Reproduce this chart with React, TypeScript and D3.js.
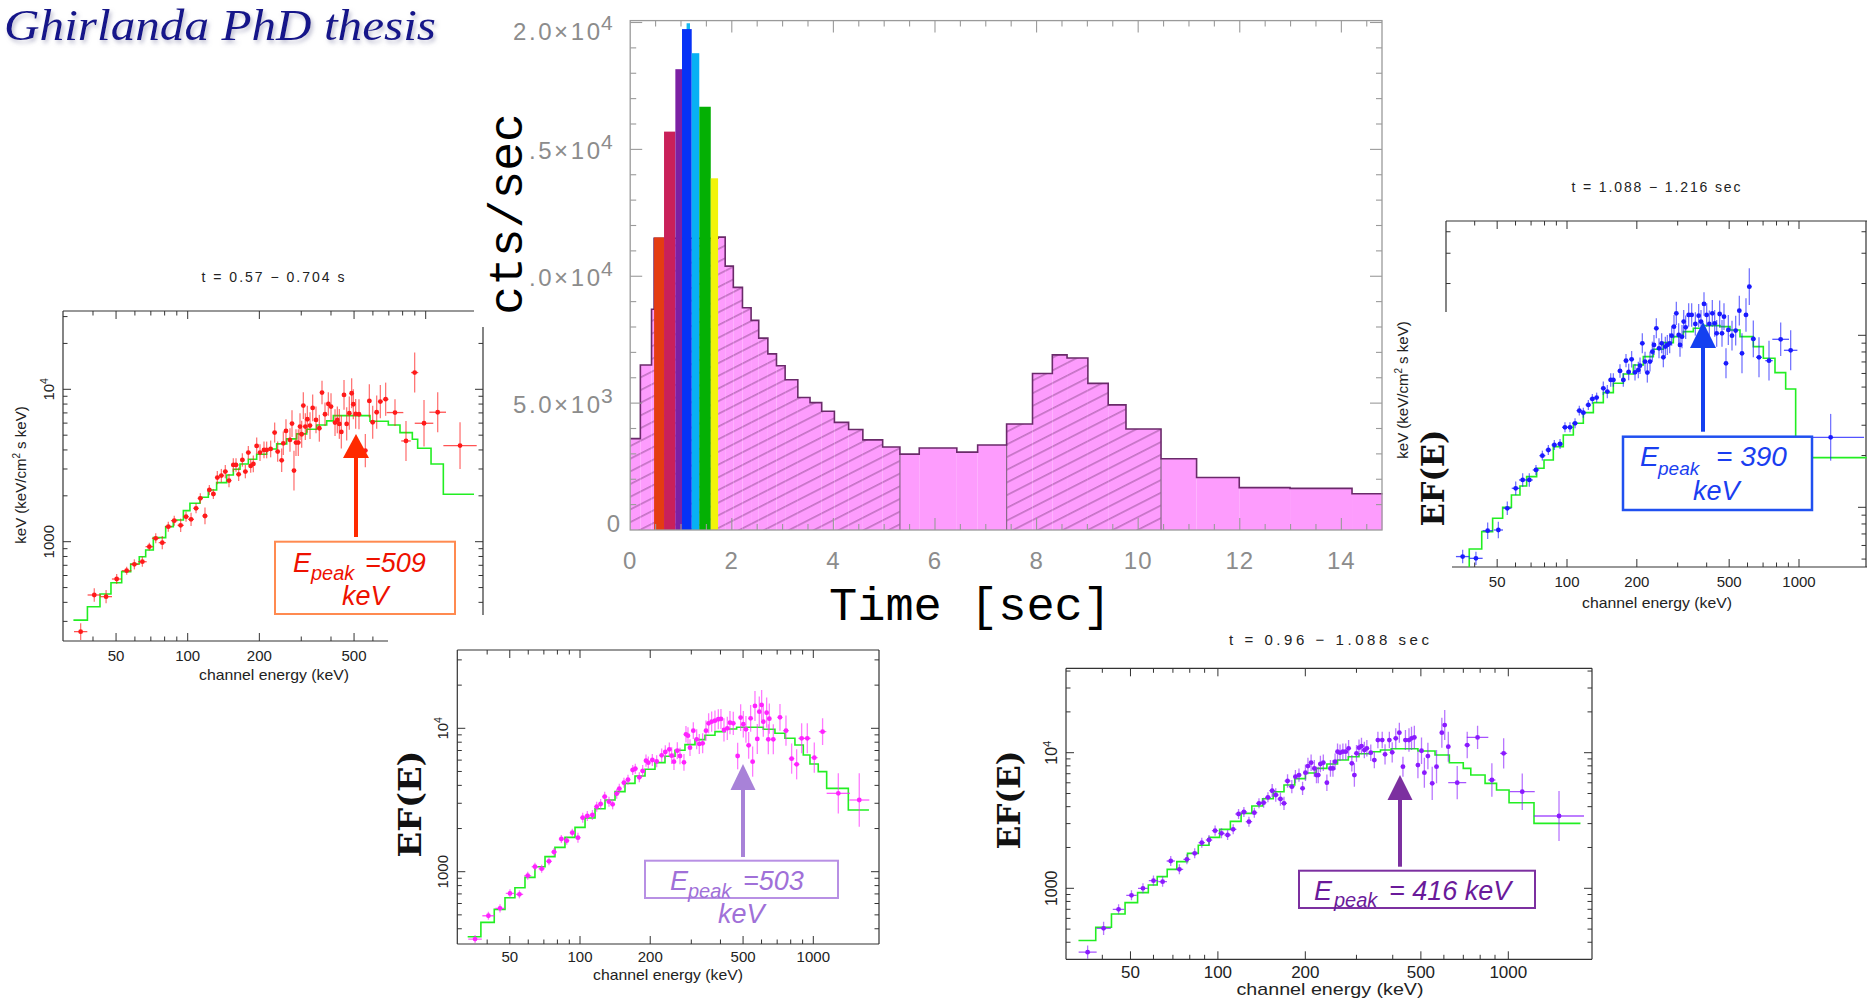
import React from 'react';
import * as d3 from 'd3';

// ================= Light curve data =================
const binEdges = [0, 0.2, 0.42, 0.47, 1.73, 1.87, 2.03, 2.21, 2.38, 2.53, 2.71, 2.88, 3.05, 3.30, 3.54, 3.77, 4.02, 4.30, 4.58, 4.97, 5.31, 5.69, 6.43, 6.84, 7.41, 7.92, 8.31, 8.60, 9.01, 9.41, 9.76, 10.45, 11.15, 11.99, 12.99, 14.21, 14.81];
const binCounts = [3600, 6500, 8700, 11500, 11540, 10400, 9560, 8760, 8260, 7560, 6940, 6470, 5920, 5220, 5020, 4680, 4240, 3960, 3550, 3270, 2990, 3230, 3070, 3350, 4180, 6170, 6900, 6780, 5780, 4930, 3980, 2810, 2070, 1670, 1640, 1430];
const hatchStart = [0, 7.41];
const hatchEnd = [5.31, 10.45];
const colorStart = [0.47, 0.666, 0.889, 1.11, 1.02, 1.211, 1.36, 1.586];
const colorEnd = [0.666, 0.889, 1.02, 1.177, 1.211, 1.36, 1.586, 1.73];
const colorCounts = [11530, 15700, 18160, 19970, 19740, 18790, 16680, 13860];
const colorFills = ['#e43c12', '#c9205a', '#7b20a4', '#14b8f2', '#0632f6', '#08b0f4', '#04b004', '#f2f40a'];
const timeTicks = [0, 2, 4, 6, 8, 10, 12, 14];
const countTicks = [0, 5000, 10000, 15000, 20000];
const countMant = ['0', '5.0×10', '1.0×10', '1.5×10', '2.0×10'];
const countExp = ['', '3', '4', '4', '4'];

// ================= Spectral panels =================
const energyTicks = [30, 40, 50, 60, 70, 80, 90, 100, 200, 300, 400, 500, 600, 700, 800, 900, 1000, 2000];
const energyLabels = [50, 100, 200, 500, 1000];
const fluxTicks = [200, 300, 400, 500, 600, 700, 800, 900, 1000, 2000, 3000, 4000, 5000, 6000, 7000, 8000, 9000, 10000, 20000, 30000, 40000, 50000];

// --- red : t = 0.57 - 0.704 s
const redE = [35.5,40.5,45.4,50.3,55.4,59.7,64.5,69.0,73.4,78.2,82.9,87.8,93.4,98.4,103.3,108.4,113.0,118.2,123.3,128.2,133.2,138.5,143.9,149.1,155.5,159.6,163.7,169.7,174.7,179.8,183.9,188.7,194.9,201.3,209.2,214.6,223.1,231.9,238.8,248.2,252.2,258.8,269.0,274.3,279.6,285.1,291.6,296.4,301.2,306.1,312.1,318.2,326.5,335.0,346.0,357.4,366.7,377.5,389.9,400.1,415.9,425.4,433.7,442.1,453.7,465.5,477.6,488.5,496.5,507.8,524.4,557.7,579.7,598.7,622.3,644.8,678.7,743.0,826.4,898.7,983.8,1123,1394];
const redF = [257,447,436,569,645,710,739,928,1052,986,1255,1374,1281,1460,1402,1656,1927,1475,2185,2056,2634,2714,2884,2517,3190,3190,2769,3439,2884,3842,3141,3237,4249,3842,4000,4000,4061,5199,3901,3422,4424,5332,4653,5957,2928,4469,4469,5692,5070,7818,5692,6362,5780,7548,6297,5550,9520,6861,8018,7701,6048,6297,5927,5252,9188,5927,6966,9424,7980,6896,6861,3961,8393,6078,7072,8309,8608,7036,4583,12880,5986,7072,4272];
const redErr = [0.055,0.044,0.044,0.033,0.026,0.033,0.033,0.026,0.033,0.044,
0.033,0.033,0.044,0.033,0.044,0.033,0.033,0.055,0.033,0.033,
0.044,0.044,0.044,0.044,0.044,0.044,0.044,0.044,0.044,0.044,
0.044,0.055,0.055,0.055,0.055,0.055,0.055,0.066,0.066,0.077,
0.077,0.077,0.077,0.088,0.131,0.088,0.088,0.088,0.088,0.088,
0.088,0.088,0.088,0.088,0.088,0.088,0.077,0.077,0.077,0.088,
0.088,0.088,0.098,0.109,0.098,0.109,0.109,0.098,0.098,0.098,
0.098,0.109,0.109,0.109,0.109,0.109,0.109,0.088,0.131,0.131,
0.153,0.131,0.153];
const redHw = [0.028,0.028,0.025,0.02,0.02,0.018,0.018,0.016,0.016,0.015,
0.014,0.014,0.013,0.012,0.012,0.011,0.011,0.011,0.01,0.01,
0.01,0.01,0.01,0.01,0.01,0.01,0.01,0.01,0.01,0.01,
0.008,0.008,0.008,0.008,0.008,0.008,0.008,0.008,0.008,0.008,
0.007,0.007,0.007,0.007,0.007,0.007,0.007,0.007,0.007,0.007,
0.007,0.007,0.007,0.007,0.007,0.007,0.007,0.007,0.007,0.007,
0.007,0.007,0.007,0.007,0.007,0.007,0.007,0.007,0.007,0.007,
0.007,0.008,0.008,0.008,0.009,0.01,0.012,0.035,0.02,0.015,
0.039,0.035,0.07];
const redModelE = [33.1,37.9,42.8,47.6,52.8,57.6,62.6,66.6,71.7,80.8,87.0,95.9,102.2,112.6,122.1,132.3,145.8,155.5,165.9,179.8,194.9,214.6,236.5,260.5,287.0,316.2,348.3,383.7,409.2,583.4,696.6,779.8,878.7,925.2,1053,1186,1596];
const redModelF = [306,374,454,538,636,714,797,882,1063,1255,1388,1599,1786,1956,2185,2441,2741,2987,3237,3474,3746,4061,4381,4725,5096,5468,5837,6202,6722,6172,5837,5199,4701,4102,3237,2046];

// --- blue : t = 1.088 - 1.216 sec
const blueE = [35.5,40.5,45.5,50.6,55.3,60.1,64.4,68.8,73.5,78.3,83.1,88.2,93.3,98.0,103.0,108.3,113.0,117.6,123.6,128.6,134.2,143.4,149.2,154.3,158.4,169.2,174.9,179.6,184.4,189.9,196.4,203.0,206.4,211.2,216.9,222.0,227.9,233.3,237.1,242.7,249.2,255.9,260.2,265.4,270.7,277.0,282.5,289.2,296.0,302.9,307.0,313.1,318.4,324.7,334.5,344.6,357.5,369.4,378.1,389.5,399.9,410.7,423.1,433.0,441.7,455.0,465.7,475.0,484.5,495.9,514.3,533.3,553.1,567.9,590.9,610.7,635.5,672.3,742.5,833.7,920.6,1369];
const blueF = [517,505,731,738,987,1290,1442,1442,1649,1997,2154,2303,2334,2918,2918,3078,3648,3551,3936,4265,4342,4920,4705,5500,5500,6203,5500,7124,6121,7253,6095,6287,6661,8986,7030,6068,7030,8035,8787,10985,8404,8986,7448,8594,8787,8986,9954,11230,13420,10040,8787,9822,12010,11130,13130,13130,11640,13010,12010,15210,13130,11640,13420,11740,10270,13300,10270,12840,6875,10740,9954,10650,13910,7860,13130,19180,9521,7448,7124,9478,8180,2553];
const blueErr = [0.039,0.039,0.048,0.048,0.039,0.039,0.039,0.039,0.029,0.029,
0.029,0.029,0.029,0.029,0.029,0.029,0.029,0.029,0.029,0.029,
0.029,0.039,0.039,0.039,0.039,0.039,0.039,0.039,0.048,0.048,
0.048,0.048,0.048,0.058,0.058,0.058,0.058,0.058,0.058,0.058,
0.058,0.058,0.058,0.058,0.058,0.058,0.058,0.068,0.068,0.068,
0.068,0.068,0.068,0.068,0.068,0.068,0.068,0.068,0.068,0.068,
0.068,0.078,0.078,0.078,0.078,0.078,0.078,0.078,0.087,0.087,
0.087,0.087,0.087,0.116,0.097,0.107,0.107,0.116,0.116,0.097,
0.116,0.136];
const blueHw = [0.029,0.029,0.022,0.02,0.018,0.017,0.016,0.015,0.014,0.013,
0.012,0.012,0.012,0.012,0.012,0.012,0.012,0.012,0.012,0.012,
0.01,0.01,0.01,0.01,0.01,0.01,0.01,0.01,0.01,0.01,
0.008,0.008,0.008,0.008,0.008,0.008,0.008,0.008,0.008,0.008,
0.007,0.007,0.007,0.007,0.007,0.007,0.007,0.007,0.007,0.007,
0.007,0.007,0.007,0.007,0.007,0.007,0.007,0.007,0.007,0.007,
0.007,0.007,0.007,0.007,0.007,0.007,0.007,0.007,0.007,0.007,
0.007,0.007,0.007,0.008,0.009,0.01,0.011,0.013,0.016,0.036,
0.029,0.144];
const blueModelE = [33,37.9,42.9,47.8,52.8,57.6,62.7,67.0,74.0,79.6,87.3,96.4,106.5,117.6,129.9,143.4,158.4,174.9,193.2,213.3,235.6,260.2,287.3,317.3,350.4,387.0,456.5,504.2,556.8,635.5,701.9,788.0,876.1,967.4,1957];
const blueModelF = [430,572,722,863,1000,1179,1330,1508,1686,1885,2253,2634,3078,3551,4060,4642,5259,5960,6722,7516,8290,9065,9822,10500,10985,11380,11230,10740,9822,8594,7350,6068,4875,1944];

// --- magenta
const magE = [35.5,40.5,45.4,50.1,55.0,59.7,64.1,68.5,73.6,77.4,83.2,87.7,92.7,98.0,102.7,107.5,113.0,117.9,122.6,127.6,133.1,138.0,143.6,147.4,154.3,160.6,168.2,172.6,179.6,185.6,191.8,196.3,204.2,213.1,223.9,232.1,241.5,247.1,252.8,261.3,268.3,279.0,284.6,290.3,296.1,306.0,316.2,324.6,335.5,346.7,355.9,366.7,378.9,391.6,402.0,414.1,428.0,439.4,454.1,473.9,488.2,501.2,514.5,528.2,538.7,549.5,562.3,575.4,586.8,600.5,610.5,631.0,641.5,647.9,673.9,719.7,763.6,807.4,848.3,891.3,942.6,1010,1096,1280,1574];
const magF = [339,493,555,706,695,938,1084,1049,1181,1372,1690,1646,1871,1727,2381,2446,2485,2841,2966,3336,3078,2950,3501,3794,4177,4384,5120,5231,4550,5040,5949,5761,6013,5886,6481,6837,7137,6447,5855,6985,6412,5791,9082,8889,7330,9632,8381,7777,7860,9632,10840,11130,11310,11560,11620,9736,10000,10950,10840,6412,11870,10670,9840,7607,11740,5855,14320,8425,13070,14550,11130,12860,8381,11680,8381,11930,9632,6143,5608,8517,8517,6243,9478,3520,3162];
const magErr = [0.028,0.028,0.028,0.028,0.028,0.028,0.028,0.028,0.028,0.028,
0.028,0.028,0.028,0.035,0.035,0.035,0.035,0.035,0.035,0.035,
0.035,0.035,0.035,0.035,0.035,0.035,0.035,0.035,0.035,0.042,
0.042,0.042,0.042,0.042,0.047,0.047,0.047,0.058,0.058,0.058,
0.058,0.058,0.058,0.058,0.058,0.058,0.07,0.07,0.07,0.07,
0.07,0.07,0.07,0.07,0.07,0.081,0.081,0.081,0.081,0.093,
0.093,0.093,0.093,0.093,0.093,0.105,0.105,0.105,0.105,0.105,
0.105,0.105,0.105,0.105,0.105,0.093,0.105,0.105,0.105,0.105,
0.105,0.105,0.093,0.14,0.186];
const magHw = [0.029,0.026,0.02,0.018,0.016,0.015,0.014,0.013,0.012,0.012,
0.011,0.011,0.011,0.011,0.011,0.011,0.011,0.011,0.011,0.011,
0.01,0.01,0.01,0.01,0.01,0.01,0.01,0.01,0.01,0.01,
0.008,0.008,0.008,0.008,0.008,0.008,0.008,0.008,0.008,0.008,
0.007,0.007,0.007,0.007,0.007,0.007,0.007,0.007,0.007,0.007,
0.007,0.007,0.007,0.007,0.007,0.007,0.007,0.007,0.007,0.007,
0.007,0.007,0.007,0.007,0.007,0.007,0.007,0.007,0.007,0.007,
0.007,0.007,0.007,0.007,0.007,0.01,0.012,0.012,0.012,0.014,
0.014,0.014,0.016,0.05,0.043];
const magModelE = [33.0,37.6,42.9,47.7,52.6,58.1,64.1,70.8,78.1,86.2,95.2,105.1,116.0,128.0,141.3,155.9,172.1,190.0,209.6,231.4,255.4,281.8,311.1,343.3,378.9,418.2,469.2,610.5,684.9,755.9,834.2,906.1,967.7,1050,1141,1413,1732];
const magModelF = [352,443,546,658,773,913,1084,1273,1478,1736,2039,2368,2751,3162,3615,4133,4650,5176,5761,6379,7022,7691,8336,8938,9478,9893,10160,9840,9228,8517,7649,6516,5638,4985,3814,2693];

// --- purple : t = 0.96 - 1.088 sec
const purE = [35.6,40.4,45.5,50.4,55.2,60.0,64.5,68.8,73.7,78.2,83.2,88.0,93.2,97.8,102.9,108.0,112.9,117.8,122.9,127.9,133.5,138.5,143.7,148.7,153.8,158.2,164.2,168.9,173.7,179.7,184.9,190.2,195.7,200.2,204.2,209.4,214.8,218.5,221.6,225.4,230.7,237.3,244.1,249.0,253.2,258.2,263.4,269.4,275.6,281.9,289.2,295.1,300.1,306.1,312.2,319.4,325.8,336.1,345.7,355.6,368.0,376.3,389.4,398.3,409.7,421.5,433.7,442.4,455.0,464.2,474.8,488.4,502.5,514.0,528.6,547.0,566.0,590.4,604.0,621.4,667.0,722.0,783.8,877.9,963.8,1117,1495];
const purF = [338,507,700,888,1000,1139,1120,1590,1380,1636,1811,2171,2271,2662,2543,2473,2722,3531,3653,3100,3612,4231,4280,4686,5247,4875,4554,4231,6183,5616,6653,6844,5459,7122,7975,8438,7663,6844,6844,8252,8438,6009,7663,7663,8585,10170,10000,10170,10170,10770,8346,6844,9888,10890,11200,10460,10770,10000,8830,12400,12400,9721,12400,10060,12760,14040,7887,12400,12400,12760,12970,8111,10340,7122,9450,5943,7887,14040,15990,11070,6009,11390,12970,6288,9888,5158,3414];
const purErr = [0.049,0.049,0.037,0.037,0.037,0.037,0.037,0.037,0.037,0.037,
0.037,0.037,0.037,0.037,0.037,0.037,0.037,0.037,0.037,0.037,
0.037,0.037,0.037,0.037,0.049,0.049,0.049,0.049,0.049,0.049,
0.049,0.049,0.049,0.061,0.061,0.061,0.061,0.061,0.061,0.061,
0.061,0.061,0.061,0.061,0.061,0.061,0.061,0.061,0.061,0.061,
0.061,0.086,0.061,0.061,0.061,0.061,0.061,0.061,0.061,0.061,
0.061,0.074,0.061,0.074,0.074,0.074,0.074,0.074,0.086,0.086,
0.086,0.098,0.098,0.111,0.098,0.123,0.123,0.111,0.111,0.111,
0.123,0.098,0.086,0.123,0.111,0.135,0.184];
const purHw = [0.031,0.025,0.02,0.018,0.017,0.016,0.015,0.014,0.013,0.012,
0.011,0.011,0.011,0.011,0.011,0.011,0.011,0.011,0.011,0.011,
0.01,0.01,0.01,0.01,0.01,0.01,0.01,0.01,0.01,0.01,
0.008,0.008,0.008,0.008,0.008,0.008,0.008,0.008,0.008,0.008,
0.007,0.007,0.007,0.007,0.007,0.007,0.007,0.007,0.007,0.007,
0.007,0.007,0.007,0.007,0.007,0.007,0.007,0.007,0.007,0.007,
0.007,0.007,0.007,0.007,0.007,0.007,0.007,0.007,0.007,0.007,
0.007,0.007,0.007,0.007,0.007,0.007,0.007,0.007,0.007,0.007,
0.031,0.01,0.037,0.012,0.012,0.043,0.086];
const purModelE = [33.1,37.96,43.0,47.9,52.9,57.6,61.8,66.9,72.2,78.6,85.6,93.2,101.4,110.4,120.2,130.9,142.5,155.1,168.9,183.9,200.2,217.9,237.3,258.2,281.2,306.1,333.3,362.9,395.1,488.4,559.4,626.6,699.8,742.7,831.8,911.0,1006,1226,1772];
const purModelF = [412,516,647,784,929,1058,1219,1380,1573,1811,2075,2376,2722,3118,3571,4045,4580,5158,5777,6434,7081,7663,8252,8830,9344,9831,10170,10460,10700,10290,9612,8438,7663,6844,5943,5306,4280,3014];

// ================= layout =================
type Seg = [number, number, number, number];
interface PanelCfg {
  id: string;
  x100: number; xDec: number; y1000: number; yDec: number;
  clip: [number, number, number, number];
  hAxes: Seg[]; // [y, xa, xb, dir]
  vAxes: Seg[]; // [x, ya, yb, dir]
}

const panelA: PanelCfg = { id: 'pa', x100: 187.7, xDec: 238, y1000: 541.7, yDec: 152.4, clip: [63, 311, 483, 641],
  hAxes: [[311, 63, 474, 1], [641, 63, 388, -1]], vAxes: [[63, 311, 641, 1], [483, 327, 615, -1]] };
const panelB: PanelCfg = { id: 'pb', x100: 1567, xDec: 232, y1000: 507.3, yDec: 172, clip: [1446, 221, 1867, 567],
  hAxes: [[221, 1446, 1867, 1], [567, 1452, 1867, -1]], vAxes: [[1446, 221, 312, 1], [1866, 221, 567, -1]] };
const panelC: PanelCfg = { id: 'pc', x100: 580, xDec: 233.3, y1000: 871.7, yDec: 143.4, clip: [457.3, 650, 879, 944],
  hAxes: [[650, 457.3, 879, 1], [944, 457.3, 879, -1]], vAxes: [[457.3, 650, 944, 1], [879, 650, 944, -1]] };
const panelD: PanelCfg = { id: 'pd', x100: 1217.9, xDec: 290.4, y1000: 888.3, yDec: 135.6, clip: [1066, 668.3, 1592, 959.3],
  hAxes: [[668.3, 1066, 1592, 1], [959.3, 1066, 1592, -1]], vAxes: [[1066, 668.3, 959.3, 1], [1592, 668.3, 959.3, -1]] };

function scalesFor(c: PanelCfg) {
  const xs = d3.scaleLog().domain([100, 1000]).range([c.x100, c.x100 + c.xDec]);
  const ys = d3.scaleLog().domain([1000, 10000]).range([c.y1000, c.y1000 - c.yDec]);
  return { xs, ys };
}

function Panel(props: { cfg: PanelCfg; E: number[]; F: number[]; err: number[]; hw: number[]; mE: number[]; mF: number[]; color: string; }) {
  const { cfg, E, F, err, hw, mE, mF, color } = props;
  const { xs, ys } = scalesFor(cfg);
  let d = `M${xs(mE[0])},${ys(mF[0])}`;
  for (let i = 0; i < mF.length; i++) {
    d += `H${xs(mE[i + 1])}`;
    if (i + 1 < mF.length) d += `V${ys(mF[i + 1])}`;
  }
  const [cx0, cy0, cx1, cy1] = cfg.clip;
  const ticks: JSX.Element[] = [];
  cfg.hAxes.forEach(([y, xa, xb, dir], k) => {
    ticks.push(<line key={`h${k}`} x1={xa} x2={xb} y1={y} y2={y} stroke="#333" strokeWidth={1.2} />);
    energyTicks.forEach((v, j) => {
      const x = xs(v);
      if (x <= xa + 1 || x >= xb - 1) return;
      const len = energyLabels.includes(v) ? 8 : 4.5;
      ticks.push(<line key={`h${k}-${j}`} x1={x} x2={x} y1={y} y2={y + dir * len} stroke="#333" strokeWidth={1} />);
    });
  });
  cfg.vAxes.forEach(([x, ya, yb, dir], k) => {
    ticks.push(<line key={`v${k}`} x1={x} x2={x} y1={ya} y2={yb} stroke="#333" strokeWidth={1.2} />);
    fluxTicks.forEach((v, j) => {
      const y = ys(v);
      if (y <= ya + 1 || y >= yb - 1) return;
      const len = v === 1000 || v === 10000 ? 8 : 4.5;
      ticks.push(<line key={`v${k}-${j}`} x1={x} x2={x + dir * len} y1={y} y2={y} stroke="#333" strokeWidth={1} />);
    });
  });
  return (
    <g>
      <defs>
        <clipPath id={cfg.id}><rect x={cx0} y={cy0} width={cx1 - cx0} height={cy1 - cy0} /></clipPath>
      </defs>
      {ticks}
      <g clipPath={`url(#${cfg.id})`}>
        <path d={d} fill="none" stroke="#22ee22" strokeWidth={1.6} />
        {E.map((e, i) => {
          const x = xs(e), y = ys(F[i]);
          return (
            <g key={i}>
              <line x1={x} x2={x} y1={ys(F[i] * Math.pow(10, err[i]))} y2={ys(F[i] / Math.pow(10, err[i]))} stroke={color} strokeOpacity={0.6} strokeWidth={1.3} />
              <line x1={xs(e / Math.pow(10, hw[i]))} x2={xs(e * Math.pow(10, hw[i]))} y1={y} y2={y} stroke={color} strokeOpacity={0.75} strokeWidth={1.3} />
              <circle cx={x} cy={y} r={2.4} fill={color} />
            </g>
          );
        })}
      </g>
    </g>
  );
}

function XLabels(props: { cfg: PanelCfg; y: number; size: number; labelY: number; labelX: number; labelLen: number; maxX: number }) {
  const { xs } = scalesFor(props.cfg);
  return (
    <g fill="#222" fontSize={props.size}>
      {energyLabels.filter(v => xs(v) < props.maxX).map(v => (
        <text key={v} x={xs(v)} y={props.y} textAnchor="middle">{v}</text>
      ))}
      <text x={props.labelX} y={props.labelY} textAnchor="middle" textLength={props.labelLen} lengthAdjust="spacingAndGlyphs">channel energy (keV)</text>
    </g>
  );
}

function YLabels(props: { cfg: PanelCfg; x: number; size: number }) {
  const { ys } = scalesFor(props.cfg);
  return (
    <g fill="#222" fontSize={props.size}>
      <text transform={`translate(${props.x},${ys(10000)}) rotate(-90)`} textAnchor="middle">10<tspan dy={-6} fontSize={props.size * 0.7}>4</tspan></text>
      <text transform={`translate(${props.x},${ys(1000)}) rotate(-90)`} textAnchor="middle">1000</text>
    </g>
  );
}

function Arrow(props: { x: number; tip: number; head: number; base: number; hw: number; color: string }) {
  const { x, tip, head, base, hw, color } = props;
  return (
    <g>
      <line x1={x} x2={x} y1={base} y2={head} stroke={color} strokeWidth={4} />
      <polygon points={`${x},${tip} ${x - hw},${head} ${x + hw},${head}`} fill={color} />
    </g>
  );
}

function LightCurve() {
  const xT = d3.scaleLinear().domain([0, 14.8]).range([630.2, 1382]);
  const yC = d3.scaleLinear().domain([0, 20000]).range([530, 22.5]);
  const hatched = (a: number, b: number) => hatchStart.some((s, k) => (a + b) / 2 > s && (a + b) / 2 < hatchEnd[k]);
  let outline = `M${xT(binEdges[0])},${yC(binCounts[0])}`;
  for (let i = 0; i < binCounts.length; i++) {
    outline += `H${xT(binEdges[i + 1])}`;
    if (i + 1 < binCounts.length) outline += `V${yC(binCounts[i + 1])}`;
  }
  const minor = d3.range(0, 14.8, 0.5);
  const yMinor = d3.range(0, 20001, 1000);
  const fx0 = 630.2, fx1 = 1382, fy0 = 20.6, fy1 = 530;
  const boundaries = [hatchEnd[0], hatchStart[1], hatchEnd[1]];
  return (
    <g>
      <defs>
        <pattern id="hatch" patternUnits="userSpaceOnUse" width={10} height={11.3} patternTransform="rotate(-27)">
          <line x1={0} y1={5.6} x2={10} y2={5.6} stroke="#7a3c7a" strokeWidth={0.9} strokeOpacity={0.85} />
        </pattern>
      </defs>
      {binCounts.map((c, i) => {
        const x0 = xT(binEdges[i]), x1 = xT(binEdges[i + 1]);
        return (
          <g key={i}>
            <rect x={x0} y={yC(c)} width={x1 - x0} height={yC(0) - yC(c)} fill="#fd9cfd" />
            {hatched(binEdges[i], binEdges[i + 1]) && (
              <rect x={x0} y={yC(c)} width={x1 - x0} height={yC(0) - yC(c)} fill="url(#hatch)" />
            )}
          </g>
        );
      })}
      {boundaries.map((b, k) => {
        const i = binEdges.findIndex(e => Math.abs(e - b) < 1e-6);
        const top = Math.min(binCounts[i - 1], binCounts[i]);
        return <line key={k} x1={xT(b)} x2={xT(b)} y1={yC(0)} y2={yC(top)} stroke="#8a6a8a" strokeWidth={1.2} />;
      })}
      <path d={outline} fill="none" stroke="#6a2a6a" strokeWidth={1.6} />
      {colorCounts.map((c, i) => (
        <rect key={i} x={xT(colorStart[i])} y={yC(c)} width={xT(colorEnd[i]) - xT(colorStart[i])} height={yC(0) - yC(c)} fill={colorFills[i]} />
      ))}
      {/* frame */}
      <rect x={fx0} y={fy0} width={fx1 - fx0} height={fy1 - fy0} fill="none" stroke="#9a9a9a" strokeWidth={1.3} />
      {minor.map((t, i) => {
        const len = t % 2 === 0 ? 12 : 6;
        const x = xT(t);
        if (x <= fx0 + 1) return null;
        return (
          <g key={`xt${i}`}>
            <line x1={x} x2={x} y1={fy1} y2={fy1 - len} stroke="#9a9a9a" strokeWidth={1.1} />
            <line x1={x} x2={x} y1={fy0} y2={fy0 + len} stroke="#9a9a9a" strokeWidth={1.1} />
          </g>
        );
      })}
      {yMinor.map((v, i) => {
        const len = v % 5000 === 0 ? 12 : 6;
        const y = yC(v);
        if (y >= fy1 - 1) return null;
        return (
          <g key={`yt${i}`}>
            <line x1={fx0} x2={fx0 + len} y1={y} y2={y} stroke="#9a9a9a" strokeWidth={1.1} />
            <line x1={fx1} x2={fx1 - len} y1={y} y2={y} stroke="#9a9a9a" strokeWidth={1.1} />
          </g>
        );
      })}
      <g fill="#8c8c8c" fontSize={24}>
        {timeTicks.map(t => (
          <text key={t} x={xT(t)} y={569} textAnchor="middle" letterSpacing={1}>{t}</text>
        ))}
        {countTicks.map((v, i) => {
          const base = Math.min(532, Math.max(40, yC(v) + 10));
          if (!countExp[i]) return <text key={v} x={620} y={base} textAnchor="end">{countMant[i]}</text>;
          return (
            <g key={v}>
              <text x={600} y={base} textAnchor="end" textLength={87} lengthAdjust="spacing">{countMant[i]}</text>
              <text x={601} y={base - 10} fontSize={21}>{countExp[i]}</text>
            </g>
          );
        })}
      </g>
      <rect x={486} y={100} width={43} height={230} fill="#fff" />
      <text transform="translate(522,214) rotate(-90)" textAnchor="middle" fontFamily="Liberation Mono, Courier New, monospace" fontSize={48} fill="#000">cts/sec</text>
      <text x={970} y={620} textAnchor="middle" fontFamily="Liberation Mono, Courier New, monospace" fontSize={47} fill="#000">Time [sec]</text>
    </g>
  );
}

export default function App() {
  const efFont = 'DejaVu Serif, Liberation Serif, serif';
  const ital = { fontFamily: 'Liberation Sans, Arial, sans-serif', fontStyle: 'italic' as const };
  return (
    <svg width={1867} height={999} style={{ position: 'absolute', left: 0, top: 0, display: 'block' }} fontFamily="Liberation Sans, Arial, sans-serif">
      <defs>
        <filter id="shadow" x="-5%" y="-20%" width="110%" height="160%">
          <feDropShadow dx={2} dy={3} stdDeviation={2} floodColor="#8888aa" floodOpacity={0.55} />
        </filter>
      </defs>
      <rect width={1867} height={999} fill="#fff" />
      <text x={4} y={40} fontFamily="Liberation Serif, DejaVu Serif, serif" fontStyle="italic" fontSize={44} fill="#16168a" textLength={432} lengthAdjust="spacingAndGlyphs" filter="url(#shadow)">Ghirlanda PhD thesis</text>

      {/* Panel A - red */}
      <Panel cfg={panelA} E={redE} F={redF} err={redErr} hw={redHw} mE={redModelE} mF={redModelF} color="#ff1a1a" />
      <text x={273} y={282} textAnchor="middle" fontSize={14} fill="#222" textLength={143}>t = 0.57 − 0.704 s</text>
      <XLabels cfg={panelA} y={661} size={15} labelY={680} labelX={274} labelLen={150} maxX={400} />
      <YLabels cfg={panelA} x={54} size={15} />
      <text transform="translate(26,475) rotate(-90)" textAnchor="middle" fontSize={15} fill="#222">keV (keV/cm<tspan dy={-6} fontSize={10}>2</tspan><tspan dy={6}> s keV)</tspan></text>
      <rect x={275} y={541.7} width={180} height={72.3} fill="#fff" stroke="#ff8a50" strokeWidth={2} />
      <g fill="#ee1100" {...ital}>
        <text x={293} y={571.7} fontSize={27}>E</text>
        <text x={311} y={580} fontSize={20}>peak</text>
        <text x={365} y={571.7} fontSize={27}>=509</text>
        <text x={342} y={605} fontSize={27}>keV</text>
      </g>
      <Arrow x={356} tip={434} head={458} base={537} hw={13} color="#ff2a00" />

      {/* Panel B - blue */}
      <Panel cfg={panelB} E={blueE} F={blueF} err={blueErr} hw={blueHw} mE={blueModelE} mF={blueModelF} color="#1a1aff" />
      <text x={1656} y={192} textAnchor="middle" fontSize={14} fill="#222" textLength={169}>t = 1.088 − 1.216 sec</text>
      <XLabels cfg={panelB} y={587} size={15} labelY={608} labelX={1657} labelLen={150} maxX={1860} />
      <text transform="translate(1408,390) rotate(-90)" textAnchor="middle" fontSize={15} fill="#222">keV (keV/cm<tspan dy={-6} fontSize={10}>2</tspan><tspan dy={6}> s keV)</tspan></text>
      <text transform="translate(1444,478) rotate(-90)" textAnchor="middle" fontFamily={efFont} fontWeight="bold" fontSize={31} fill="#111" textLength={97} lengthAdjust="spacingAndGlyphs">EF(E)</text>
      <rect x={1623} y={436.7} width={189} height={73.3} fill="#fff" stroke="#2050f0" strokeWidth={2.5} />
      <g fill="#1a3ef0" {...ital}>
        <text x={1640} y={466} fontSize={28}>E</text>
        <text x={1658} y={475} fontSize={19}>peak</text>
        <text x={1716} y={466} fontSize={28}>= 390</text>
        <text x={1693} y={500} fontSize={27}>keV</text>
      </g>
      <Arrow x={1703} tip={321.7} head={348} base={431.7} hw={13} color="#1440f0" />

      {/* Panel C - magenta */}
      <Panel cfg={panelC} E={magE} F={magF} err={magErr} hw={magHw} mE={magModelE} mF={magModelF} color="#ff22ff" />
      <XLabels cfg={panelC} y={962} size={15} labelY={980} labelX={668} labelLen={150} maxX={870} />
      <YLabels cfg={panelC} x={448} size={15} />
      <text transform="translate(421,804) rotate(-90)" textAnchor="middle" fontFamily={efFont} fontWeight="bold" fontSize={32} fill="#111" textLength={107} lengthAdjust="spacingAndGlyphs">EF(E)</text>
      <rect x={645} y={860.7} width={193} height={37.3} fill="none" stroke="#b890e4" strokeWidth={2} />
      <g fill="#a070d8" {...ital}>
        <text x={670} y={890} fontSize={27}>E</text>
        <text x={688} y={898} fontSize={20}>peak</text>
        <text x={743} y={890} fontSize={27}>=503</text>
        <text x={718} y={923} fontSize={27}>keV</text>
      </g>
      <Arrow x={743} tip={764} head={790} base={857} hw={12.5} color="#a882d8" />

      {/* Panel D - purple */}
      <Panel cfg={panelD} E={purE} F={purF} err={purErr} hw={purHw} mE={purModelE} mF={purModelF} color="#8a1aff" />
      <text x={1329} y={645} textAnchor="middle" fontSize={15} fill="#222" textLength={200}>t = 0.96 − 1.088 sec</text>
      <XLabels cfg={panelD} y={978} size={17} labelY={995} labelX={1330} labelLen={187} maxX={1585} />
      <YLabels cfg={panelD} x={1057} size={16} />
      <text transform="translate(1020,800) rotate(-90)" textAnchor="middle" fontFamily={efFont} fontWeight="bold" fontSize={31} fill="#111" textLength={99} lengthAdjust="spacingAndGlyphs">EF(E)</text>
      <rect x={1299} y={870.7} width={236} height={37.3} fill="none" stroke="#7c30a0" strokeWidth={2} />
      <g fill="#6a1a9a" {...ital}>
        <text x={1314} y={900} fontSize={27}>E</text>
        <text x={1334} y={907} fontSize={20}>peak</text>
        <text x={1389} y={900} fontSize={27}>= 416 keV</text>
      </g>
      <Arrow x={1400} tip={775} head={800} base={866.7} hw={12.5} color="#7c30a0" />

      <LightCurve />
    </svg>
  );
}
